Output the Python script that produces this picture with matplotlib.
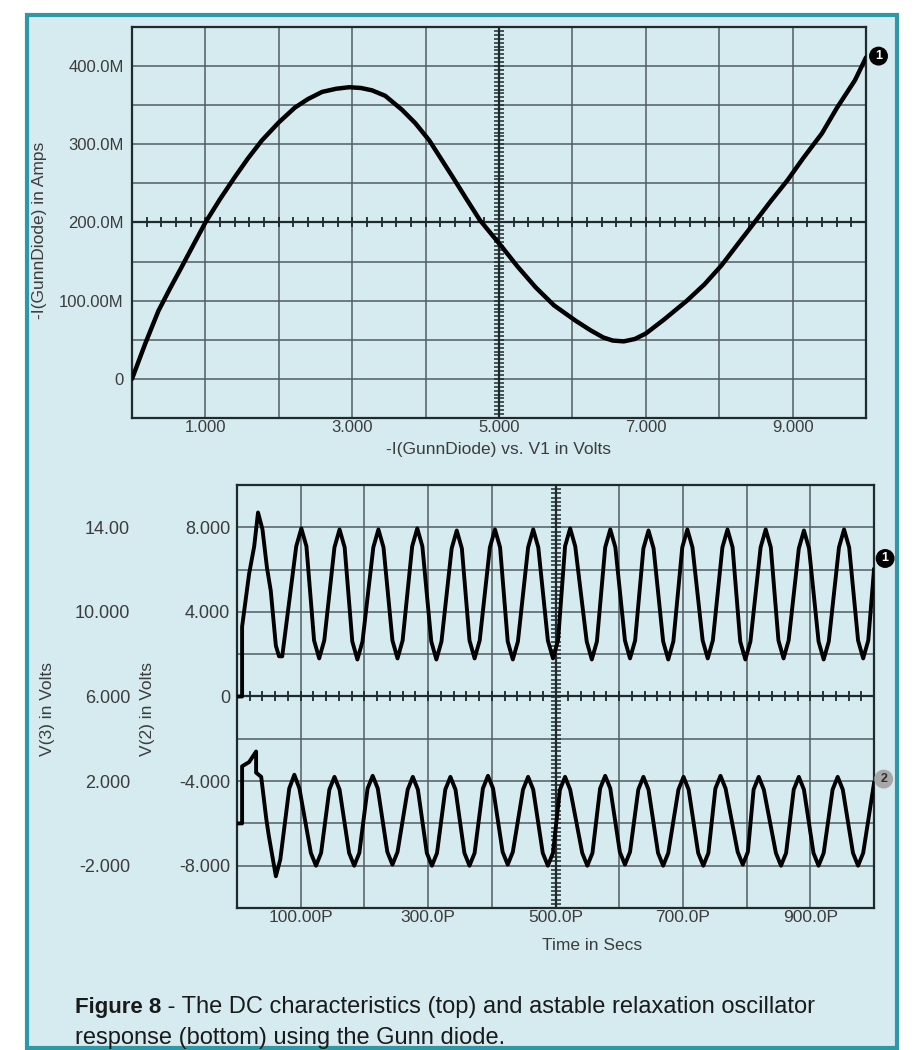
import numpy as np
import matplotlib.pyplot as plt
from matplotlib.patches import Rectangle

# top panel: DC sweep, -I(GunnDiode) (mA) against V1 (V)
v1 = [0.0, 0.18, 0.36, 0.52, 0.67, 0.84, 1.0, 1.2, 1.4, 1.58, 1.77, 2.0, 2.22, 2.4,
      2.59, 2.78, 2.96, 3.12, 3.27, 3.45, 3.68, 3.86, 4.05, 4.2, 4.37, 4.55, 4.74,
      4.88, 5.03, 5.25, 5.5, 5.75, 6.05, 6.25, 6.42, 6.55, 6.7, 6.85, 7.0, 7.25,
      7.56, 7.8, 8.03, 8.25, 8.48, 8.7, 8.93, 9.15, 9.4, 9.6, 9.85, 10.0]
i_gunn = [0, 45, 87, 116, 142, 172, 200, 230, 258, 282, 305, 328, 347, 358,
          367, 371, 373, 372, 369, 362, 344, 327, 305, 283, 258, 231, 203,
          187, 170, 144, 117, 94, 74, 62, 53, 49, 48, 51, 58, 76,
          100, 121, 145, 172, 200, 227, 254, 283, 314, 346, 382, 411]
top_xticks = [1, 3, 5, 7, 9]
top_xlabels = ["1.000", "3.000", "5.000", "7.000", "9.000"]
top_yticks = [0, 100, 200, 300, 400]
top_ylabels = ["0", "100.00M", "200.0M", "300.0M", "400.0M"]

# bottom panel: transient, time in ps
t_v2 = [0, 8, 8, 19, 27, 33, 40, 47, 53, 61, 66, 71,
        93, 101, 109, 121, 129, 137, 153, 161, 169, 181, 189, 197,
        214, 222, 230, 244, 252, 260, 275, 283, 291, 305, 313, 321,
        337, 345, 353, 365, 373, 381, 397, 405, 413, 425, 433, 441,
        457, 465, 473, 488, 496, 504, 515, 523, 531, 549, 557, 565,
        578, 586, 594, 609, 617, 625, 638, 646, 654, 669, 677, 685,
        699, 707, 715, 731, 739, 747, 762, 770, 778, 790, 798, 806,
        822, 830, 838, 850, 858, 866, 882, 890, 898, 913, 921, 929,
        945, 953, 961, 975, 983, 991, 1000]
v2 = [0, 0, 3.3, 5.8, 7.1, 8.7, 7.9, 6.1, 5.0, 2.4, 1.9, 1.9,
      7.1, 7.95, 7.1, 2.65, 1.8, 2.65, 7.05, 7.9, 7.05, 2.6, 1.75, 2.6,
      7.05, 7.9, 7.05, 2.65, 1.8, 2.65, 7.1, 7.95, 7.1, 2.6, 1.75, 2.6,
      7.0, 7.85, 7.0, 2.65, 1.8, 2.65, 7.05, 7.9, 7.05, 2.6, 1.75, 2.6,
      7.05, 7.9, 7.05, 2.65, 1.8, 2.65, 7.1, 7.95, 7.1, 2.6, 1.75, 2.6,
      7.05, 7.9, 7.05, 2.65, 1.8, 2.65, 7.0, 7.85, 7.0, 2.6, 1.75, 2.6,
      7.05, 7.9, 7.05, 2.65, 1.8, 2.65, 7.05, 7.9, 7.05, 2.6, 1.75, 2.6,
      7.05, 7.9, 7.05, 2.65, 1.8, 2.65, 7.0, 7.85, 7.0, 2.6, 1.75, 2.6,
      7.05, 7.9, 7.05, 2.65, 1.8, 2.65, 6.0]
t_v3 = [0, 8, 8, 19, 30, 30, 38, 46, 50, 61, 68,
        82, 90, 98, 116, 124, 132, 145, 153, 161, 176, 184, 192,
        205, 213, 221, 236, 244, 252, 268, 276, 284, 298, 306, 314,
        327, 335, 343, 357, 365, 373, 386, 394, 402, 417, 425, 433,
        449, 457, 465, 480, 488, 496, 507, 515, 523, 542, 550, 558,
        570, 578, 586, 601, 609, 617, 630, 638, 646, 661, 669, 677,
        693, 701, 709, 724, 732, 740, 751, 759, 767, 786, 794, 802,
        811, 819, 827, 846, 854, 862, 874, 882, 890, 905, 913, 921,
        935, 943, 951, 967, 975, 983, 1000]
v3 = [0, 0, 2.7, 2.9, 3.4, 2.4, 2.2, 0.2, -0.6, -2.5, -1.7,
      1.65, 2.3, 1.65, -1.4, -2.0, -1.4, 1.6, 2.2, 1.6, -1.4, -2.0, -1.4,
      1.65, 2.25, 1.65, -1.35, -1.95, -1.35, 1.6, 2.2, 1.6, -1.4, -2.0, -1.4,
      1.6, 2.2, 1.6, -1.4, -2.0, -1.4, 1.65, 2.25, 1.65, -1.35, -1.95, -1.35,
      1.6, 2.2, 1.6, -1.4, -2.0, -1.4, 1.6, 2.2, 1.6, -1.4, -2.0, -1.4,
      1.65, 2.25, 1.65, -1.35, -1.95, -1.35, 1.6, 2.2, 1.6, -1.4, -2.0, -1.4,
      1.6, 2.2, 1.6, -1.4, -2.0, -1.4, 1.65, 2.25, 1.65, -1.35, -1.95, -1.35,
      1.6, 2.2, 1.6, -1.4, -2.0, -1.4, 1.6, 2.2, 1.6, -1.4, -2.0, -1.4,
      1.6, 2.2, 1.6, -1.4, -2.0, -1.4, 1.9]
bot_xticks = [100, 300, 500, 700, 900]
bot_xlabels = ["100.00P", "300.0P", "500.0P", "700.0P", "900.0P"]
v2_ticks = [-8, -4, 0, 4, 8]
v2_labels = ["-8.000", "-4.000", "0", "4.000", "8.000"]
v3_ticks = [-2, 2, 6, 10, 14]
v3_labels = ["-2.000", "2.000", "6.000", "10.000", "14.00"]

BG = "#d5ebf0"
TEAL = "#2f98a8"
GRID = "#4f5e62"
DARK = "#1e2a2c"
TXT = "#3c3c3c"
W, H = 915, 1050

plt.rcParams["font.family"] = ["Liberation Sans", "DejaVu Sans"]

fig = plt.figure(figsize=(W / 100, H / 100), dpi=100, facecolor="white")


def px_axes(left, top, right, bottom):
    return fig.add_axes([left / W, 1 - bottom / H, (right - left) / W, (bottom - top) / H])


# panel frame, behind everything
fig.patches.append(Rectangle((27 / W, 1 - 1048 / H), (897 - 27) / W, (1048 - 15) / H,
                             transform=fig.transFigure, facecolor=BG, edgecolor=TEAL,
                             linewidth=3, zorder=-5))


def scope_style(ax):
    ax.set_facecolor(BG)
    ax.grid(which="both", color=GRID, linewidth=1.1)
    ax.set_axisbelow(True)
    ax.tick_params(which="both", length=0, labelsize=12, labelcolor=TXT)
    for s in ax.spines.values():
        s.set_color(DARK)
        s.set_linewidth(1.6)


# ---- top: DC characteristic
ax = px_axes(132, 27, 866, 418)
scope_style(ax)
ax.set_xlim(0, 10)
ax.set_ylim(-50, 450)
ax.set_xticks(top_xticks, top_xlabels)
ax.set_xticks(np.arange(0, 11, 1), minor=True)
ax.set_yticks(top_yticks, top_ylabels)
ax.set_yticks(np.arange(-50, 451, 50), minor=True)
ax.tick_params(axis="x", pad=1.5)
ax.tick_params(axis="y", pad=6)
# centre cross with ticks
ax.axvline(5, color=DARK, lw=1.6)
ax.axhline(200, color=DARK, lw=1.6)
ax.plot(np.full(100, 5.0), np.arange(-50, 450, 5), ls="none", marker="_", ms=7,
        mew=1.1, color=DARK)
ax.plot(np.arange(0, 10, 0.2), np.full(50, 200.0), ls="none", marker="|", ms=7,
        mew=1.3, color=DARK)
ax.plot(v1, i_gunn, color="black", lw=3.2, solid_capstyle="round",
        solid_joinstyle="round", zorder=5)
ax.annotate("1", xy=(v1[-1], i_gunn[-1]), xytext=(9, 1), textcoords="offset points",
            ha="center", va="center", color="white", fontsize=9, fontweight="bold",
            bbox=dict(boxstyle="circle,pad=0.22", fc="black", ec="black"),
            annotation_clip=False, zorder=6)
ax.set_ylabel("-I(GunnDiode) in Amps", fontsize=12.5, color=TXT)
ax.yaxis.set_label_coords((47 - 132) / 734, 0.48)
ax.set_xlabel("-I(GunnDiode) vs. V1 in Volts", fontsize=12.5, color=TXT, labelpad=5)

# ---- bottom: transient
bx = px_axes(237, 485, 874, 908)
scope_style(bx)
bx.set_xlim(0, 1000)
bx.set_ylim(-10, 10)
bx.set_xticks(bot_xticks, bot_xlabels)
bx.set_xticks(np.arange(0, 1001, 100), minor=True)
bx.set_yticks(v2_ticks, v2_labels)
bx.set_yticks(np.arange(-10, 11, 2), minor=True)
bx.tick_params(axis="x", pad=1.5, labelsize=12.5)
bx.tick_params(axis="y", pad=5, labelsize=13)
bx.axvline(500, color=DARK, lw=1.6)
bx.axhline(0, color=DARK, lw=1.6)
bx.plot(np.full(100, 500.0), np.arange(-10, 10, 0.2), ls="none", marker="_", ms=7,
        mew=1.1, color=DARK)
bx.plot(np.arange(0, 1000, 20), np.full(50, 0.0), ls="none", marker="|", ms=7,
        mew=1.3, color=DARK)
bx.plot(t_v2, v2, color="black", lw=2.8, solid_joinstyle="round", zorder=5)
bx.annotate("1", xy=(t_v2[-1], v2[-1]), xytext=(8, 8), textcoords="offset points",
            ha="center", va="center", color="white", fontsize=9, fontweight="bold",
            bbox=dict(boxstyle="circle,pad=0.22", fc="black", ec="black"),
            annotation_clip=False, zorder=6)
bx.set_ylabel("V(2) in Volts", fontsize=12.5, color=TXT)
bx.yaxis.set_label_coords((155 - 237) / 637, 0.47)

bx2 = bx.twinx()
bx2.set_ylim(-4, 16)
bx2.set_yticks(v3_ticks, v3_labels)
bx2.yaxis.set_ticks_position("left")
bx2.yaxis.set_label_position("left")
bx2.spines["left"].set_position(("outward", 73))
for s in bx2.spines.values():
    s.set_visible(False)
bx2.tick_params(length=0, labelsize=13, labelcolor=TXT, pad=4)
bx2.plot(t_v3, v3, color="black", lw=2.8, solid_joinstyle="round", zorder=5)
bx2.annotate("2", xy=(t_v3[-1], v3[-1]), xytext=(7, 3), textcoords="offset points",
             ha="center", va="center", color="#303030", fontsize=9, fontweight="bold",
             bbox=dict(boxstyle="circle,pad=0.22", fc="#a8a8a8", ec="#a8a8a8"),
             annotation_clip=False, zorder=6)
bx2.set_ylabel("V(3) in Volts", fontsize=12.5, color=TXT)
bx2.yaxis.set_label_coords((55 - 237) / 637, 0.47)

fig.text(592 / W, 1 - 945 / H, "Time in Secs", ha="center", va="center",
         fontsize=12.5, color=TXT)

# caption
t1 = fig.text(75 / W, 1 - 1008 / H, "Figure 8", ha="left", va="center",
              fontsize=16, fontweight="bold", color="#1a1a1a")
bx.annotate(" - The DC characteristics (top) and astable relaxation oscillator",
            xy=(1, 0), xycoords=t1, ha="left", va="bottom", fontsize=17,
            color="#1a1a1a", annotation_clip=False)
fig.text(75 / W, 1 - 1038 / H, "response (bottom) using the Gunn diode.", ha="left",
         va="center", fontsize=17, color="#1a1a1a")

fig.savefig("out.png", dpi=100, facecolor="white")
